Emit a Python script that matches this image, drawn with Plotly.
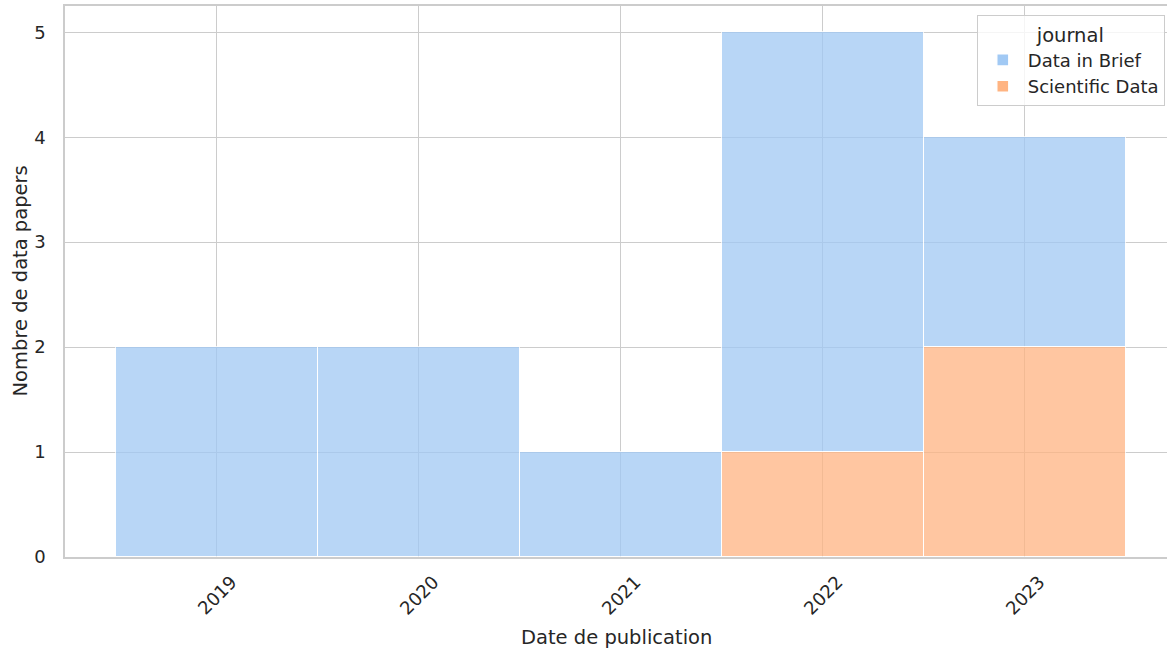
import plotly.graph_objects as go

years = [2019, 2020, 2021, 2022, 2023]
data_in_brief = [2, 2, 1, 4, 2]
scientific_data = [0, 0, 0, 1, 2]
tick_labels = ["2019", "2020", "2021", "2022", "2023"]
y_ticks = [0, 1, 2, 3, 4, 5]

FONT = "DejaVu Sans"
TXT = "#262626"
GRID = "#cccccc"
TICK_SIZE = 18
LABEL_SIZE = 19.5

def nz(v):
    return [x if x else None for x in v]

fig = go.Figure()
fig.add_trace(go.Bar(
    x=years, y=nz(scientific_data), width=1, name="Scientific Data",
    marker=dict(color="#ffb482", opacity=0.75, line=dict(color="white", width=1.4)),
    legendrank=2,
))
fig.add_trace(go.Bar(
    x=years, y=nz(data_in_brief), width=1, name="Data in Brief",
    marker=dict(color="#a1c9f4", opacity=0.75, line=dict(color="white", width=1.4)),
    legendrank=1,
))

annotations = []
for yr, lab in zip(years, tick_labels):
    annotations.append(dict(
        x=yr, y=0, xref="x", yref="paper", text=lab, showarrow=False,
        textangle=-45, xanchor="center", yanchor="middle", yshift=-38,
        font=dict(family=FONT, size=TICK_SIZE, color=TXT),
    ))
annotations.append(dict(
    x=0.5, y=0, xref="paper", yref="paper", text="Date de publication",
    showarrow=False, xanchor="center", yanchor="middle", yshift=-80,
    font=dict(family=FONT, size=LABEL_SIZE, color=TXT),
))
annotations.append(dict(
    x=0, y=0.5, xref="paper", yref="paper", text="Nombre de data papers",
    showarrow=False, textangle=-90, xanchor="center", yanchor="middle", xshift=-45,
    font=dict(family=FONT, size=LABEL_SIZE, color=TXT),
))

fig.update_layout(
    width=1167, height=649,
    margin=dict(l=65, r=0, t=6, b=92),
    barmode="stack", bargap=0,
    plot_bgcolor="white", paper_bgcolor="white",
    font=dict(family=FONT, size=TICK_SIZE, color=TXT),
    annotations=annotations,
    legend=dict(
        title=dict(text="journal", side="top center", font=dict(size=LABEL_SIZE, color=TXT)),
        traceorder="normal", itemwidth=40,
        x=0.998, xanchor="right", y=0.983, yanchor="top",
        bgcolor="rgba(255,255,255,0.8)", bordercolor=GRID, borderwidth=1,
        font=dict(size=TICK_SIZE, color=TXT),
    ),
    xaxis=dict(
        range=[2018.25, 2023.705],
        tickmode="array", tickvals=years, showticklabels=False,
        showgrid=True, gridcolor=GRID, gridwidth=1.3,
        showline=True, linecolor=GRID, linewidth=1.5, mirror=True,
        zeroline=False, ticks="",
    ),
    yaxis=dict(
        range=[0, 5.25], tickmode="array", tickvals=y_ticks,
        showgrid=True, gridcolor=GRID, gridwidth=1.3,
        showline=True, linecolor=GRID, linewidth=1.5, mirror=False,
        zeroline=False, ticks="", ticklabelstandoff=14,
    ),
)

fig.write_html(
    "out.html",
    config={"displayModeBar": False},
    post_script="document.body.style.margin='0';document.body.style.overflow='hidden';",
)
